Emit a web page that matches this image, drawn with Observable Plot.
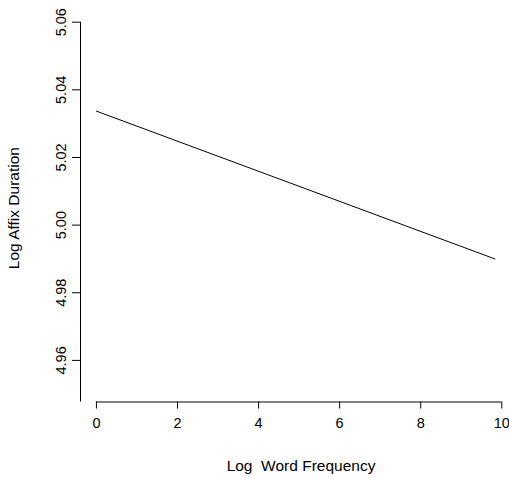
<!DOCTYPE html>
<html>
<head>
<meta charset="utf-8">
<script src="https://cdn.jsdelivr.net/npm/d3@7"></script>
<script src="https://cdn.jsdelivr.net/npm/@observablehq/plot@0.6"></script>
<style>
  html, body { margin: 0; padding: 0; background: #fff; }
  svg text { white-space: pre; }
</style>
</head>
<body>
<div id="chart"></div>
<script>
// Data
const wordFreq = [0, 9.83];
const affixDur = [5.0337, 4.990];
const xTicks = [0, 2, 4, 6, 8, 10];
const yTicks = [4.96, 4.98, 5.00, 5.02, 5.04, 5.06];
const xTitle = "Log  Word Frequency";
const yTitle = "Log Affix Duration";

const data = wordFreq.map((x, i) => ({x, y: affixDur[i]}));

const xMin = -0.393, xMax = 10.19;
const yMin = 4.9477, yMax = 5.06;

const chart = Plot.plot({
  width: 509,
  height: 478,
  marginLeft: 80,
  marginRight: 0,
  marginTop: 21.7,
  marginBottom: 76.5,
  style: {fontFamily: "'Liberation Sans', Arial, sans-serif", fontSize: "14px", color: "#000", background: "#fff"},
  x: {domain: [xMin, xMax]},
  y: {domain: [yMin, yMax]},
  marks: [
    Plot.ruleX([xMin], {y1: yMin, y2: yMax, stroke: "#000", strokeWidth: 1}),
    Plot.ruleY([yMin], {x1: xTicks[0], x2: xTicks[xTicks.length - 1], stroke: "#000", strokeWidth: 1}),
    Plot.axisY({ticks: yTicks, tickSize: 8, tickPadding: 7, tickRotate: -90, tickFormat: d3.format(".2f"), fontSize: 14.5, label: null, stroke: "#000"}),
    Plot.axisX({ticks: xTicks, tickSize: 7, tickPadding: 9, tickFormat: d3.format("d"), fontSize: 14.5, label: null, stroke: "#000"}),
    Plot.line(data, {x: "x", y: "y", stroke: "#000", strokeWidth: 1}),
    Plot.text([yTitle], {frameAnchor: "left", dx: -66, dy: -4, rotate: -90, fontSize: 15.5, textAnchor: "middle", lineAnchor: "middle", fill: "#000"}),
    Plot.text([xTitle], {frameAnchor: "bottom", dx: 6, dy: 64.5, fontSize: 15.5, textAnchor: "middle", lineAnchor: "middle", fill: "#000"})
  ]
});
document.getElementById("chart").appendChild(chart);
</script>
</body>
</html>
